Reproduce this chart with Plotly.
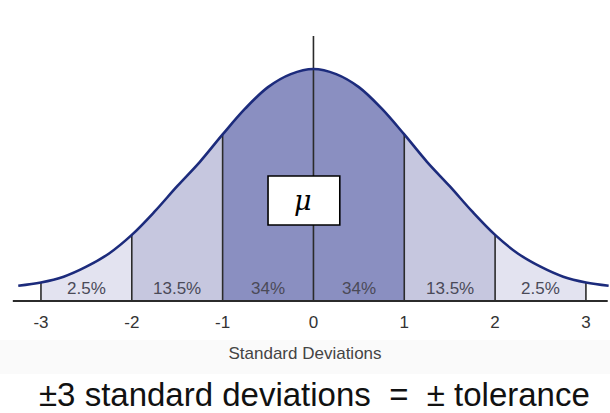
import plotly.graph_objects as go

# ---- data ----
SD_X = [-3.25, -3.0, -2.75, -2.5, -2.25, -2.0, -1.75, -1.5, -1.25, -1.0, -0.75, -0.5, -0.25,
        0.0, 0.25, 0.5, 0.75, 1.0, 1.25, 1.5, 1.75, 2.0, 2.25, 2.5, 2.75, 3.0, 3.25]
CURVE_Y = [0.066, 0.080, 0.105, 0.148, 0.205, 0.285, 0.385, 0.495, 0.600, 0.718, 0.830, 0.922, 0.978,
           1.000, 0.978, 0.922, 0.830, 0.718, 0.600, 0.495, 0.385, 0.285, 0.205, 0.148, 0.105, 0.080, 0.066]
BAND_EDGES = [-3, -2, -1, 0, 1, 2, 3]
BAND_LABELS = ["2.5%", "13.5%", "34%", "34%", "13.5%", "2.5%"]
TICK_VALS = [-3, -2, -1, 0, 1, 2, 3]
TICK_TEXT = ["-3", "-2", "-1", "0", "1", "2", "3"]
AXIS_TITLE = "Standard Deviations"
MEAN_LABEL = "μ"
CAPTION = "±3 standard deviations  =  ± tolerance"

BAND_COLORS = ["#e3e3f0", "#c6c7df", "#8a8fc1", "#8a8fc1", "#c6c7df", "#e3e3f0"]

fig = go.Figure()

# filled bands
for i in range(len(BAND_EDGES) - 1):
    a, b = BAND_EDGES[i], BAND_EDGES[i + 1]
    xs = [x for x in SD_X if a <= x <= b]
    ys = [y for x, y in zip(SD_X, CURVE_Y) if a <= x <= b]
    fig.add_trace(go.Scatter(x=xs, y=ys, mode="lines", line=dict(width=0, shape="spline"),
                             fill="tozeroy", fillcolor=BAND_COLORS[i], hoverinfo="skip",
                             showlegend=False))

# dividers at band edges
curve_at = dict(zip(SD_X, CURVE_Y))
for e in BAND_EDGES:
    if e == 0:
        continue
    fig.add_trace(go.Scatter(x=[e, e], y=[0, curve_at[e]], mode="lines",
                             line=dict(color="#2b2b2b", width=1.6), hoverinfo="skip",
                             showlegend=False))

# mean line
fig.add_trace(go.Scatter(x=[0, 0], y=[0, 1.142], mode="lines",
                         line=dict(color="#2b2b2b", width=1.6), hoverinfo="skip",
                         showlegend=False))

# curve
fig.add_trace(go.Scatter(x=SD_X, y=CURVE_Y, mode="lines",
                         line=dict(color="#1c2b7c", width=2.6, shape="spline"),
                         hoverinfo="skip", showlegend=False))

# band labels
for i, lab in enumerate(BAND_LABELS):
    mid = (BAND_EDGES[i] + BAND_EDGES[i + 1]) / 2
    fig.add_annotation(x=mid, y=0.056, text=lab, showarrow=False,
                       font=dict(family="Liberation Sans, Arial", size=17, color="#4a4a58"))

shapes = [
    # baseline
    dict(type="line", xref="x", yref="y", x0=-3.31, x1=3.24, y0=0, y1=0,
         line=dict(color="#2b2b2b", width=2), layer="above"),
    # mu box
    dict(type="rect", xref="x", yref="y", x0=-0.50, x1=0.29, y0=0.328, y1=0.539,
         fillcolor="white", line=dict(color="black", width=1.6), layer="above"),
    # faint band behind axis title
    dict(type="rect", xref="paper", yref="paper", x0=0, x1=1, y0=-0.214, y1=-0.104,
         fillcolor="#fafafa", line=dict(width=0), layer="below"),
]
fig.add_annotation(x=-0.115, y=0.434, text="<i>" + MEAN_LABEL + "</i>", showarrow=False,
                   font=dict(family="DejaVu Serif, serif", size=27, color="black"))

fig.add_annotation(xref="paper", yref="paper", x=314 / 610, y=(308 - 394) / 308,
                   text=CAPTION, showarrow=False, xanchor="center", yanchor="middle",
                   font=dict(family="Liberation Sans, Arial", size=33, color="#111111"))

fig.update_layout(
    width=610, height=413,
    margin=dict(l=0, r=0, t=0, b=105),
    paper_bgcolor="white", plot_bgcolor="white",
    shapes=shapes,
    xaxis=dict(range=[-3.451, 3.265], tickvals=TICK_VALS, ticktext=TICK_TEXT,
               showgrid=False, zeroline=False, showline=False, ticks="",
               tickfont=dict(family="Liberation Sans, Arial", size=17, color="#333333"),
               ticklabelstandoff=2,
               title=dict(text=AXIS_TITLE, standoff=16,
                          font=dict(family="Liberation Sans, Arial", size=17, color="#444444"))),
    yaxis=dict(range=[-0.03, 1.2974], visible=False, showgrid=False, zeroline=False),
)

fig.write_html("out.html", config={"displayModeBar": False},
               post_script="document.body.style.margin='0';document.body.style.overflow='hidden';")
